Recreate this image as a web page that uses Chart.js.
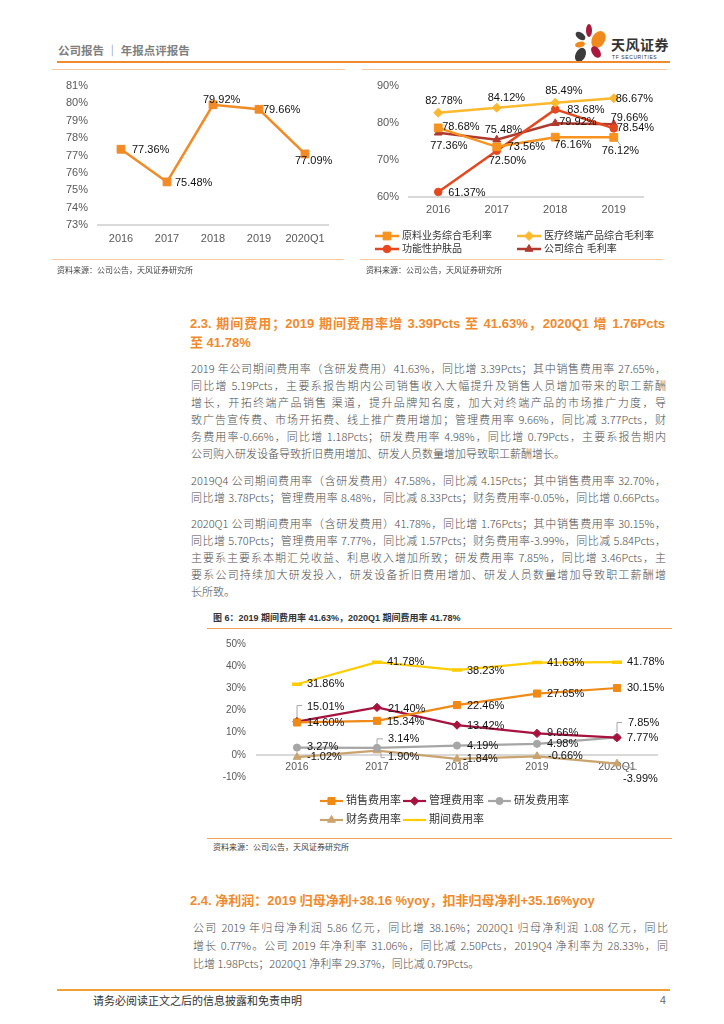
<!DOCTYPE html>
<html>
<head>
<meta charset="utf-8">
<script src="https://cdn.jsdelivr.net/npm/chart.js"></script>
<style>
  body { margin: 0; background: #fff; }
  #page { position: relative; width: 724px; height: 1024px; overflow: hidden; background: #fff;
    font-family: "Liberation Sans", Arial, "Noto Sans CJK SC", sans-serif; }
  .abs { position: absolute; }
  .rule { position: absolute; height: 1px; background: #F9C8A0; }
  .src { position: absolute; font-size: 8px; color: #404040; line-height: 10px; font-family: "Noto Sans CJK SC", sans-serif; }
  .h2 { position: absolute; left: 190px; width: 475px; color: #F08A2C; font-weight: bold; font-size: 13px; line-height: 19px; }
  .txt { position: absolute; left: 191px; width: 475px; color: #4d4d4d; font-size: 11px; font-weight: 300;
    font-family: "Noto Sans CJK SC", sans-serif; }
  .ln { height: 17px; line-height: 17px; text-align: justify; text-align-last: justify; }
  .ln.end { text-align-last: left; }
  canvas { position: absolute; }
</style>
</head>
<body>
<div id="page">
  <!-- header -->
  <div class="abs" style="left:58px;top:43px;font-size:11.5px;font-weight:bold;color:#7F7F7F;font-family:'Noto Sans CJK SC',sans-serif;line-height:14px">公司报告 ｜ 年报点评报告</div>
  <svg class="abs" style="left:570px;top:22px" width="40" height="42" viewBox="0 0 40 42">
    <ellipse cx="19" cy="8.5" rx="3" ry="6.5" fill="#A8193D"/>
    <ellipse cx="10.5" cy="14" rx="5.5" ry="3.3" fill="#3C3C3C" transform="rotate(35 10.5 14)"/>
    <ellipse cx="28.5" cy="17.5" rx="6.5" ry="9" fill="#F08A1E" transform="rotate(30 28.5 17.5)"/>
    <ellipse cx="10" cy="22.5" rx="5" ry="2.8" fill="#F08A1E" transform="rotate(-15 10 22.5)"/>
    <ellipse cx="26" cy="30" rx="4" ry="6.5" fill="#A8193D" transform="rotate(-35 26 30)"/>
    <ellipse cx="10.5" cy="33" rx="5" ry="7.5" fill="#3C3C3C" transform="rotate(25 10.5 33)"/>
  </svg>
  <div class="abs" style="left:611px;top:36px;font-size:14px;font-weight:bold;color:#333;font-family:'Noto Sans CJK SC',sans-serif;line-height:16px;letter-spacing:0.5px">天风证券</div>
  <div class="abs" style="left:612px;top:54px;font-size:5px;color:#333;line-height:6px;letter-spacing:0.6px">TF SECURITIES</div>
  <div class="abs" style="left:57px;top:61px;width:613px;height:2px;background:#F08A2C"></div>

  <!-- top charts -->
  <div class="rule" style="left:52px;top:69px;width:293px"></div>
  <div class="rule" style="left:362px;top:69px;width:305px"></div>
  <canvas id="c1" width="288" height="180" style="left:57px;top:75px"></canvas>
  <canvas id="c2" width="306" height="185" style="left:362px;top:75px"></canvas>
  <div class="rule" style="left:52px;top:259px;width:292px"></div>
  <div class="rule" style="left:360px;top:259px;width:303px"></div>
  <div class="src" style="left:57px;top:265px">资料来源：公司公告，天风证券研究所</div>
  <div class="src" style="left:366px;top:265px">资料来源：公司公告，天风证券研究所</div>

  <!-- 2.3 -->
  <div class="h2" style="top:314px">
    <div style="text-align:justify;text-align-last:justify">2.3. 期间费用；2019 期间费用率增 3.39Pcts 至 41.63%，2020Q1 增 1.76Pcts</div>
    <div>至 41.78%</div>
  </div>
  <div class="txt" style="top:360px">
    <div class="ln">2019 年公司期间费用率（含研发费用）41.63%，同比增 3.39Pcts；其中销售费用率 27.65%，</div>
    <div class="ln">同比增 5.19Pcts，主要系报告期内公司销售收入大幅提升及销售人员增加带来的职工薪酬</div>
    <div class="ln">增长，开拓终端产品销售 渠道，提升品牌知名度，加大对终端产品的市场推广力度，导</div>
    <div class="ln">致广告宣传费、市场开拓费、线上推广费用增加；管理费用率 9.66%，同比减 3.77Pcts，财</div>
    <div class="ln">务费用率-0.66%，同比增 1.18Pcts；研发费用率 4.98%，同比增 0.79Pcts，主要系报告期内</div>
    <div class="ln end">公司购入研发设备导致折旧费用增加、研发人员数量增加导致职工薪酬增长。</div>
  </div>
  <div class="txt" style="top:472px">
    <div class="ln">2019Q4 公司期间费用率（含研发费用）47.58%，同比减 4.15Pcts；其中销售费用率 32.70%，</div>
    <div class="ln">同比增 3.78Pcts；管理费用率 8.48%，同比减 8.33Pcts；财务费用率-0.05%，同比增 0.66Pcts。</div>
  </div>
  <div class="txt" style="top:515px">
    <div class="ln">2020Q1 公司期间费用率（含研发费用）41.78%，同比增 1.76Pcts；其中销售费用率 30.15%，</div>
    <div class="ln">同比增 5.70Pcts；管理费用率 7.77%，同比减 1.57Pcts；财务费用率-3.99%，同比减 5.84Pcts，</div>
    <div class="ln">主要系主要系本期汇兑收益、利息收入增加所致；研发费用率 7.85%，同比增 3.46Pcts，主</div>
    <div class="ln">要系公司持续加大研发投入，研发设备折旧费用增加、研发人员数量增加导致职工薪酬增</div>
    <div class="ln end">长所致。</div>
  </div>

  <!-- figure 6 -->
  <div class="abs" style="left:213px;top:612px;font-size:9px;font-weight:bold;color:#333;line-height:12px">图 6：2019 期间费用率 41.63%，2020Q1 期间费用率 41.78%</div>
  <div class="abs" style="left:207px;top:628px;width:465px;height:1px;background:#F5A05A"></div>
  <canvas id="c3" width="465" height="200" style="left:207px;top:632px"></canvas>
  <div class="rule" style="left:207px;top:838px;width:465px;background:#F5A05A"></div>
  <div class="src" style="left:213px;top:842px">资料来源：公司公告，天风证券研究所</div>

  <!-- 2.4 -->
  <div class="h2" style="top:891px;width:auto">2.4. 净利润：2019 归母净利+38.16 %yoy，扣非归母净利+35.16%yoy</div>
  <div class="txt" style="top:918px;left:193px">
    <div class="ln" style="height:18px;line-height:18px">公司 2019 年归母净利润 5.86 亿元，同比增 38.16%；2020Q1 归母净利润 1.08 亿元，同比</div>
    <div class="ln" style="height:18px;line-height:18px">增长 0.77%。公司 2019 年净利率 31.06%，同比减 2.50Pcts，2019Q4 净利率为 28.33%，同</div>
    <div class="ln end" style="height:18px;line-height:18px">比增 1.98Pcts；2020Q1 净利率 29.37%，同比减 0.79Pcts。</div>
  </div>

  <!-- footer -->
  <div class="abs" style="left:57px;top:989px;width:613px;height:2px;background:#F0A034"></div>
  <div class="abs" style="left:93px;top:993px;font-size:11px;color:#333;line-height:14px;font-family:'Noto Sans CJK SC',sans-serif">请务必阅读正文之后的信息披露和免责申明</div>
  <div class="abs" style="left:660px;top:993px;font-size:10.5px;color:#666;line-height:14px">4</div>
</div>

<script>
// ---- data ----
const years = ["2016", "2017", "2018", "2019", "2020Q1"];
const years4 = ["2016", "2017", "2018", "2019"];

// chart 1: company gross margin (%)
const grossMargin = [77.36, 75.48, 79.92, 79.66, 77.09];

// chart 2: gross margin by business (%)
const rawMaterialGM = [78.68, 73.56, 76.16, 76.12];
const medicalGM = [82.78, 84.12, 85.49, 86.67];
const skincareGM = [61.37, 72.5, 83.68, 78.54];
const companyGM = [77.36, 75.48, 79.92, 79.66];

// chart 3: expense ratios (%)
const sellingRate = [14.6, 15.34, 22.46, 27.65, 30.15];
const adminRate = [15.01, 21.4, 13.42, 9.66, 7.77];
const rdRate = [3.27, 3.14, 4.19, 4.98, 7.85];
const financeRate = [-1.02, 1.9, -1.84, -0.66, -3.99];
const periodRate = [31.86, 41.78, 38.23, 41.63, 41.78];

// ---- label placement (dx, dy from the point, optional leader line) ----
const pos1 = [[[11, 1], [8, 1], [-10, -5], [4, 1], [-10, 7]]];
const pos2 = [
  [[4, -1], [11, 0], [-1, 8], [-12, 14, [[3, 3], [7, 8]]]],
  [[-13, -12], [-9, -10], [-10, -12], [2, 1]],
  [[10, 1], [-8, 10], [12, 1], [3, 0]],
  [[-8, 13], [-12, -10], [4, -1], [-3, -6]],
];
const pos3 = [
  [[10, 0], [10, 1], [10, 1], [10, 0], [10, 0]],
  [[10, -15, [[0, -4], [0, -16], [5, -16]]], [11, 2], [10, 1], [10, 0], [10, 0]],
  [[10, -1], [11, -9, [[0, -4], [0, -9], [6, -9]]], [10, 0], [10, 0], [11, -14, [[0, -5], [0, -15], [5, -15]]]],
  [[10, 0], [11, 6, [[4, 2], [4, 7], [8, 7]]], [6, 0], [11, 0], [6, 15, [[6, 2], [20, 6]]]],
  [[10, 0], [10, 0], [10, 1], [10, 0], [10, 0]],
];

const FONT = '"Liberation Sans", Arial, "Noto Sans CJK SC", sans-serif';
const TICK = "#595959";
Chart.defaults.font.family = FONT;
Chart.defaults.animation = false;

function series(label, data, color, style, radius, width) {
  return {
    label: label,
    data: data,
    borderColor: color,
    backgroundColor: color,
    pointBackgroundColor: color,
    pointBorderColor: color,
    pointStyle: style,
    pointRadius: radius,
    pointHoverRadius: radius,
    pointBorderWidth: 1,
    borderWidth: width,
    tension: 0,
  };
}

function yScale(min, max, step, width, pad, size) {
  return {
    min: min,
    max: max,
    ticks: { stepSize: step, padding: pad, color: TICK, font: { size: size }, callback: (v) => v + "%" },
    grid: { display: false, drawTicks: false },
    border: { display: false },
    afterFit: (s) => {
      s.width = width;
      // let layout.padding alone decide the top/bottom of the plot
      s.paddingTop = 0;
      s.paddingBottom = 0;
    },
  };
}

function xScale(height, pad, size, position) {
  return {
    position: position,
    offset: true,
    grid: { display: false, drawTicks: false },
    border: { display: true, color: "#D9D9D9", width: 2 },
    ticks: { padding: pad, color: TICK, font: { size: size }, maxRotation: 0, autoSkip: false },
    afterFit: (s) => { s.height = height; },
  };
}

// value labels next to each point
function pointLabels(specs) {
  return {
    id: "pointLabels",
    afterDatasetsDraw(chart) {
      const ctx = chart.ctx;
      ctx.save();
      ctx.font = "11px " + FONT;
      ctx.textBaseline = "middle";
      ctx.textAlign = "left";
      chart.data.datasets.forEach((ds, i) => {
        chart.getDatasetMeta(i).data.forEach((pt, j) => {
          const s = specs[i][j];
          if (s[2]) {
            ctx.strokeStyle = "#A6A6A6";
            ctx.lineWidth = 1;
            ctx.beginPath();
            s[2].forEach((p, k) => {
              if (k) ctx.lineTo(pt.x + p[0], pt.y + p[1]);
              else ctx.moveTo(pt.x + p[0], pt.y + p[1]);
            });
            ctx.stroke();
          }
          ctx.fillStyle = "#111";
          ctx.fillText(ds.data[j].toFixed(2) + "%", pt.x + s[0], pt.y + s[1]);
        });
      });
      ctx.restore();
    },
  };
}

// excel-like legend: short line with the marker in the middle
function lineLegend(places, len, fontSize) {
  return {
    id: "lineLegend",
    afterDraw(chart) {
      const ctx = chart.ctx;
      ctx.save();
      ctx.font = fontSize + "px " + FONT;
      ctx.textBaseline = "middle";
      chart.data.datasets.forEach((ds, i) => {
        const x = places[i][0], y = places[i][1];
        ctx.strokeStyle = ds.borderColor;
        ctx.lineWidth = ds.borderWidth;
        ctx.beginPath();
        ctx.moveTo(x, y);
        ctx.lineTo(x + len, y);
        ctx.stroke();
        if (ds.pointStyle !== "line") {
          ctx.fillStyle = ds.borderColor;
          ctx.lineWidth = 1;
          Chart.helpers.drawPoint(ctx, { pointStyle: ds.pointStyle, radius: ds.pointRadius, borderWidth: 1, rotation: 0 }, x + len / 2, y);
        }
        ctx.fillStyle = "#333";
        ctx.fillText(ds.label, x + len + 3, y);
      });
      ctx.restore();
    },
  };
}

// chart 1
new Chart(document.getElementById("c1"), {
  type: "line",
  data: {
    labels: years,
    datasets: [series("毛利率", grossMargin, "#F28A25", "rect", 5.5, 2.5)],
  },
  options: {
    responsive: false,
    layout: { padding: { top: 11, right: 17, left: 0, bottom: 0 } },
    plugins: { legend: { display: false }, tooltip: { enabled: false } },
    scales: {
      x: xScale(30, 7, 11, "bottom"),
      y: yScale(73, 81, 1, 41, 10, 11),
    },
  },
  plugins: [pointLabels(pos1)],
});

// chart 2
new Chart(document.getElementById("c2"), {
  type: "line",
  data: {
    labels: years4,
    datasets: [
      series("原料业务综合毛利率", rawMaterialGM, "#F7931E", "rect", 5.5, 2.5),
      series("医疗终端产品综合毛利率", medicalGM, "#FDB92E", "rectRot", 4.5, 2.5),
      series("功能性护肤品", skincareGM, "#E5481E", "circle", 3.8, 2.5),
      series("公司综合 毛利率", companyGM, "#B03A2E", "triangle", 4.5, 2.5),
    ],
  },
  options: {
    responsive: false,
    layout: { padding: { top: 11, right: 25, left: 0, bottom: 0 } },
    plugins: { legend: { display: false }, tooltip: { enabled: false } },
    scales: {
      x: xScale(63, 6, 11, "bottom"),
      y: yScale(60, 90, 10, 47, 10, 11),
    },
  },
  plugins: [pointLabels(pos2), lineLegend([[13, 161], [155, 161], [13, 174], [155, 174]], 24, 10)],
});

// chart 3
const ds3 = [
  series("销售费用率", sellingRate, "#EF8A17", "rect", 5, 2.2),
  series("管理费用率", adminRate, "#A8123E", "rectRot", 4.2, 2.2),
  series("研发费用率", rdRate, "#A6A6A6", "circle", 3.6, 2.2),
  series("财务费用率", financeRate, "#C9A46E", "triangle", 4.5, 2.2),
  series("期间费用率", periodRate, "#FFCC00", "line", 5, 2.2),
];
ds3[4].pointBorderWidth = 3.5;

new Chart(document.getElementById("c3"), {
  type: "line",
  data: { labels: years, datasets: ds3 },
  options: {
    responsive: false,
    layout: { padding: { top: 12, right: 15, left: 0, bottom: 55 } },
    plugins: { legend: { display: false }, tooltip: { enabled: false } },
    scales: {
      x: xScale(0, 6, 10.5, { y: 0 }),
      y: yScale(-10, 50, 10, 50, 11, 10),
    },
  },
  plugins: [pointLabels(pos3), lineLegend([[113, 169], [196, 169], [281, 169], [113, 188], [196, 188]], 23, 11)],
});
</script>
</body>
</html>
